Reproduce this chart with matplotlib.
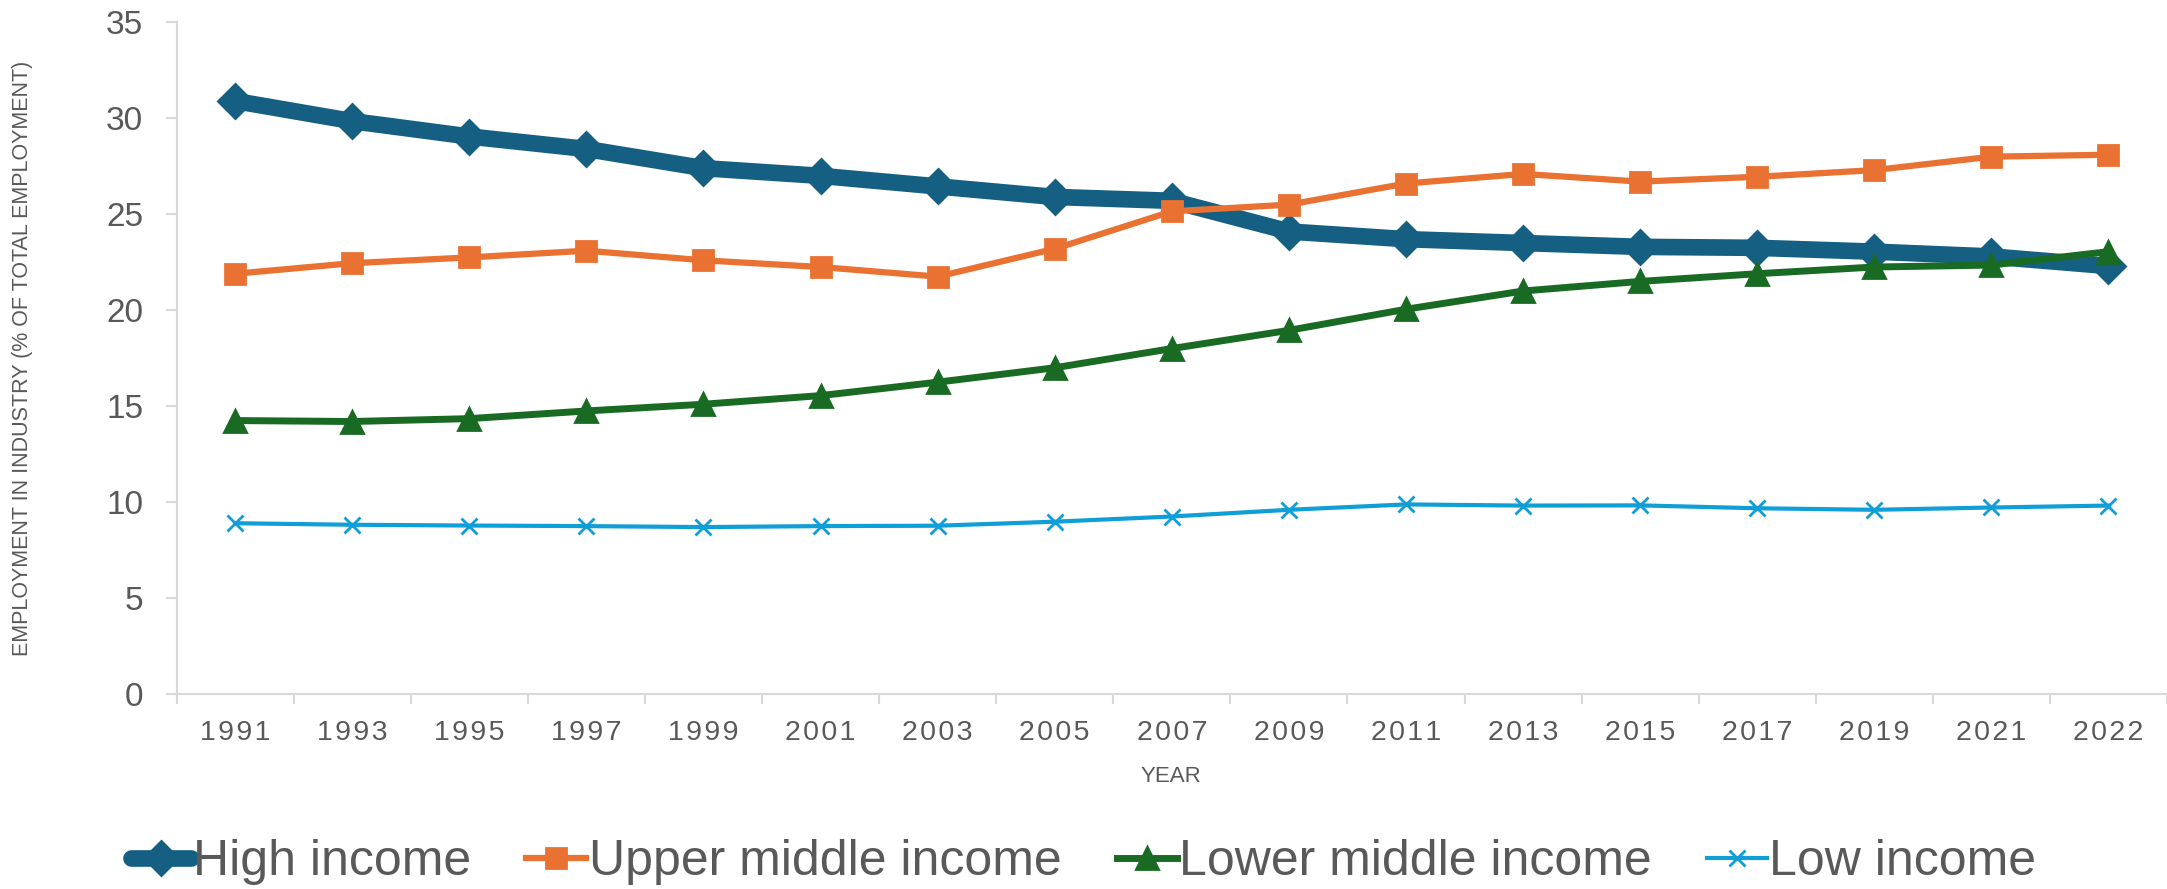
import numpy as np
import matplotlib
matplotlib.use('Agg')
import matplotlib.pyplot as plt

years = ['1991', '1993', '1995', '1997', '1999', '2001', '2003', '2005', '2007',
         '2009', '2011', '2013', '2015', '2017', '2019', '2021', '2022']

high_income = [30.9, 29.85, 29.05, 28.4, 27.4, 27.0, 26.45, 25.9, 25.7,
               24.1, 23.7, 23.5, 23.3, 23.25, 23.05, 22.8, 22.3]
upper_middle = [21.9, 22.45, 22.75, 23.1, 22.6, 22.25, 21.75, 23.2, 25.15,
                25.5, 26.6, 27.1, 26.7, 26.95, 27.3, 28.0, 28.1]
lower_middle = [14.25, 14.2, 14.35, 14.75, 15.1, 15.55, 16.25, 17.0, 18.0,
                18.95, 20.05, 21.0, 21.5, 21.9, 22.25, 22.35, 23.05]
low_income = [8.9, 8.82, 8.78, 8.75, 8.7, 8.75, 8.77, 8.98, 9.25,
              9.6, 9.88, 9.82, 9.83, 9.68, 9.6, 9.72, 9.82]

GREY = '#595959'
AXIS = '#D9D9D9'

plt.rcParams['font.family'] = ['Liberation Sans', 'DejaVu Sans']


def main():
	fig = plt.figure(figsize=(21.67, 8.89), dpi=100)
	ax = fig.add_axes([0.0815, 0.2193, 0.9185, 0.7556])

	x = np.arange(len(years))

	ax.plot(x, high_income, color='#156082', lw=12, marker='D', ms=17, mew=2,
	        solid_joinstyle='round', solid_capstyle='round', label='High income')
	ax.plot(x, upper_middle, color='#E97132', lw=4.5, marker='s', ms=15, mew=2,
	        solid_joinstyle='round', label='Upper middle income')
	ax.plot(x, lower_middle, color='#196B24', lw=5, marker='^', ms=16, mew=2,
	        solid_joinstyle='round', label='Lower middle income')
	ax.plot(x, low_income, color='#0F9ED5', lw=3, marker='x', ms=12, mew=2,
	        label='Low income')

	ax.set_xlim(-0.5, len(years) - 0.5)
	ax.set_ylim(0, 35)
	ax.set_yticks(np.arange(0, 36, 5))

	# category labels centred, tick marks between categories
	ax.set_xticks(x)
	ax.set_xticklabels(['\u200a'.join(y) for y in years])
	ax.set_xticks(np.arange(-0.5, len(years)), minor=True)
	ax.tick_params(axis='x', which='major', length=0, pad=19, labelsize=20.5, labelcolor=GREY)
	ax.tick_params(axis='x', which='minor', length=7, width=1.5, color=AXIS)
	ax.tick_params(axis='y', length=8, width=1.5, color=AXIS, pad=16, labelsize=24, labelcolor=GREY)

	for side in ['top', 'right']:
		ax.spines[side].set_visible(False)
	for side in ['left', 'bottom']:
		ax.spines[side].set_color(AXIS)
		ax.spines[side].set_linewidth(1.5)

	fig.text(0.0105, 0.597, 'EMPLOYMENT IN INDUSTRY (% OF TOTAL EMPLOYMENT)', rotation=90,
	         ha='center', va='center', fontsize=15.5, color=GREY)
	fig.text(0.5405, 0.126, 'YEAR', ha='center', va='center', fontsize=16, color=GREY)

	leg = fig.legend(loc='center', bbox_to_anchor=(0.5, 0.03), ncol=4, frameon=False,
	                 fontsize=36, handlelength=1.2, handletextpad=0.05, columnspacing=1.1,
	                 borderaxespad=0)
	for t in leg.get_texts():
		t.set_color(GREY)

	fig.savefig('out.png', dpi=100)


if __name__ == '__main__':
	main()
